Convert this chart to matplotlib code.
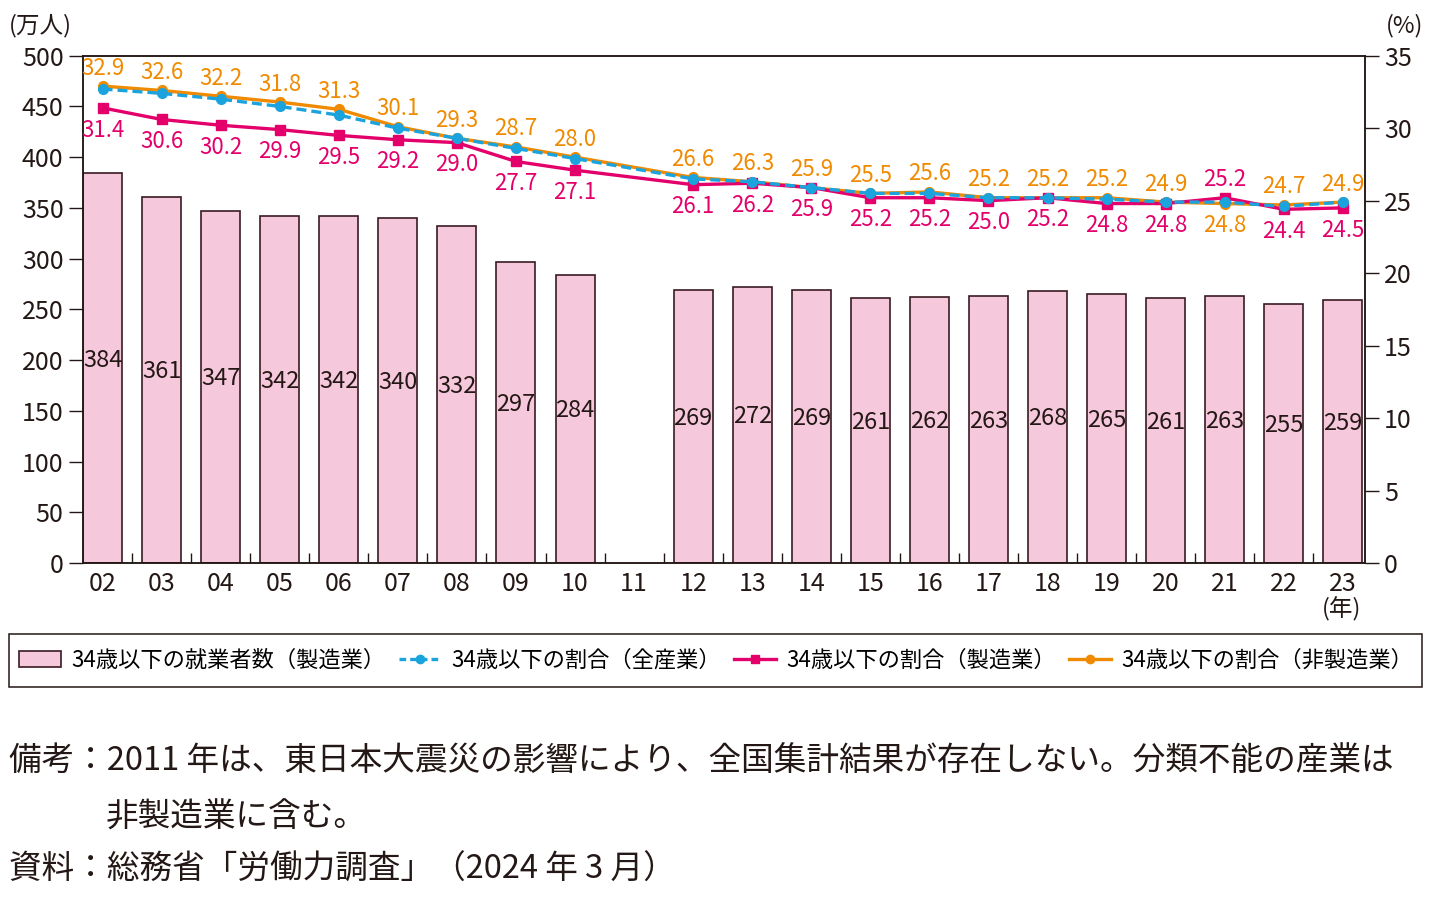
import numpy as np
import matplotlib.pyplot as plt
from matplotlib.patches import Patch, Rectangle
from matplotlib.lines import Line2D

plt.rcParams['font.family'] = ['Noto Sans CJK JP', 'DejaVu Sans']

# データ
years = ['02', '03', '04', '05', '06', '07', '08', '09', '10', '11',
         '12', '13', '14', '15', '16', '17', '18', '19', '20', '21', '22', '23']
workers = [384, 361, 347, 342, 342, 340, 332, 297, 284, None,
           269, 272, 269, 261, 262, 263, 268, 265, 261, 263, 255, 259]
rate_all = [32.7, 32.4, 32.0, 31.5, 30.9, 30.0, 29.3, 28.6, 27.9, None,
            26.5, 26.3, 25.9, 25.5, 25.5, 25.2, 25.2, 25.1, 24.9, 24.9, 24.6, 24.9]
rate_mfg = [31.4, 30.6, 30.2, 29.9, 29.5, 29.2, 29.0, 27.7, 27.1, None,
            26.1, 26.2, 25.9, 25.2, 25.2, 25.0, 25.2, 24.8, 24.8, 25.2, 24.4, 24.5]
rate_non = [32.9, 32.6, 32.2, 31.8, 31.3, 30.1, 29.3, 28.7, 28.0, None,
            26.6, 26.3, 25.9, 25.5, 25.6, 25.2, 25.2, 25.2, 24.9, 24.8, 24.7, 24.9]

c_bar = '#F6C8DB'
c_edge = '#3A1A22'
c_blue = '#1BA3DE'
c_mag = '#E4006B'
c_org = '#F08A00'
c_txt = '#231815'

fig = plt.figure(figsize=(14.32, 8.98), dpi=100)
ax = fig.add_axes([0.058, 0.373, 0.895, 0.565])
ax2 = ax.twinx()

x = np.arange(len(years))
xs = [i for i in x if workers[i] is not None]

# 棒グラフ
bw = [workers[i] for i in xs]
ax.bar(xs, bw, width=0.66, color=c_bar, edgecolor=c_edge, linewidth=1.2, zorder=2)
for i in xs:
    ax.text(i, workers[i] / 2 + 8, str(workers[i]), ha='center', va='center',
            fontsize=17, color=c_txt, zorder=3)

ax.set_ylim(0, 500)
ax.set_yticks(range(0, 501, 50))
ax.set_xlim(-0.33, 21.37)
ax.set_xticks(x)
ax.set_xticklabels(years)
ax.set_xticks(x[:-1] + 0.5, minor=True)
ax.tick_params(axis='x', which='major', length=0, labelsize=18, pad=6, colors=c_txt)
ax.tick_params(axis='x', which='minor', length=7, width=1, direction='in', color=c_txt)
ax.tick_params(axis='y', length=10, width=1, labelsize=18, direction='out', pad=4, colors=c_txt)

# 折れ線
def vals(arr):
    return [arr[i] for i in xs]

ax2.plot(xs, vals(rate_non), color=c_org, lw=2.4, marker='o', ms=7, zorder=3)
ax2.plot(xs, vals(rate_mfg), color=c_mag, lw=2.4, marker='s', ms=7, zorder=4)
ax2.plot(xs, vals(rate_all), color=c_blue, lw=2.4, ls=(0, (3, 1.5)), marker='o', ms=7, zorder=5)

for i in xs:
    non_up = years[i] != '21'
    on = 13 if non_up else -16
    om = -16 if non_up else 13
    ax2.annotate(f'{rate_non[i]:.1f}', (i, rate_non[i]), xytext=(0, on), textcoords='offset points',
                 ha='center', va='center', fontsize=16, color=c_org)
    ax2.annotate(f'{rate_mfg[i]:.1f}', (i, rate_mfg[i]), xytext=(0, om), textcoords='offset points',
                 ha='center', va='center', fontsize=16, color=c_mag)

ax2.set_ylim(0, 35)
ax2.set_yticks(range(0, 36, 5))
ax2.tick_params(axis='y', length=10, width=1, labelsize=18, direction='out', pad=4, colors=c_txt)

for a in (ax, ax2):
    for s in a.spines.values():
        s.set_linewidth(1.1)
        s.set_color(c_txt)

fig.text(0.006, 0.972, '(万人)', fontsize=17, ha='left', va='center', color=c_txt)
fig.text(0.994, 0.972, '(%)', fontsize=17, ha='right', va='center', color=c_txt)
fig.text(0.937, 0.322, '(年)', fontsize=17, ha='center', va='center', color=c_txt)

# 凡例
handles = [
    Patch(facecolor=c_bar, edgecolor=c_edge, linewidth=1.2),
    Line2D([], [], color=c_blue, lw=2.4, ls=(0, (2, 1.2)), marker='o', ms=6),
    Line2D([], [], color=c_mag, lw=2.4, marker='s', ms=6),
    Line2D([], [], color=c_org, lw=2.4, marker='o', ms=6),
]
labels = ['34歳以下の就業者数（製造業）', '34歳以下の割合（全産業）',
          '34歳以下の割合（製造業）', '34歳以下の割合（非製造業）']
leg = fig.legend(handles, labels, loc='center', bbox_to_anchor=(0.5, 0.2645), ncol=4,
                 fontsize=16, frameon=False, handlelength=1.9, handletextpad=0.45,
                 columnspacing=0.6)
fig.add_artist(Rectangle((0.006, 0.235), 0.987, 0.0595, transform=fig.transFigure,
                         fill=False, edgecolor=c_txt, linewidth=1.1))

# 注記
fig.text(0.006, 0.151, '備考：2011 年は、東日本大震災の影響により、全国集計結果が存在しない。分類不能の産業は',
         fontsize=23.5, ha='left', va='center', color=c_txt)
fig.text(0.074, 0.090, '非製造業に含む。', fontsize=23.5, ha='left', va='center', color=c_txt)
fig.text(0.006, 0.031, '資料：総務省「労働力調査」（2024 年 3 月）', fontsize=23.5, ha='left', va='center',
         color=c_txt)

fig.savefig('out.png', dpi=100)
